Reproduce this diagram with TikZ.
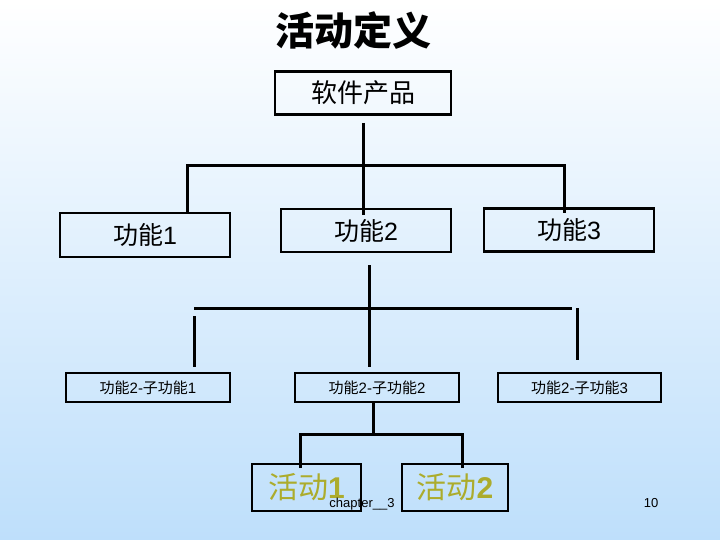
\documentclass[tikz,border=0pt]{standalone}
\usepackage{fontspec}
\setmainfont{Liberation Sans}
\newfontfamily\cjk{Noto Sans CJK SC}
\definecolor{bgblue}{RGB}{190,223,251}
\definecolor{actcol}{RGB}{172,172,44}
\begin{document}
\begin{tikzpicture}[x=1pt,y=-1pt,
  box/.style={draw=black,line width=2.6pt,inner sep=0pt,align=center},
  conn/.style={line width=3pt},
]
\useasboundingbox (0,0) rectangle (720,540);
\shade[top color=white,bottom color=bgblue] (0,0) rectangle (720,540);
% title
\node (title) at (353,31) {\cjk\bfseries\fontsize{39}{41}\selectfont 活动定义};
% level 0
\node[box,minimum width=176pt,minimum height=43pt] (top) at (363,93)
  {\cjk\fontsize{26}{28}\selectfont 软件产品};
% level 1
\node[box,minimum width=170pt,minimum height=44pt] (f1) at (145,235)
  {\fontsize{25}{27}\selectfont{\cjk 功能}1};
\node[box,minimum width=170pt,minimum height=43pt] (f2) at (366,230.5)
  {\fontsize{25}{27}\selectfont{\cjk 功能}2};
\node[box,minimum width=170pt,minimum height=43pt] (f3) at (569,230)
  {\fontsize{25}{27}\selectfont{\cjk 功能}3};
% level 2
\node[box,minimum width=164pt,minimum height=29pt] (s1) at (148,387.5)
  {\fontsize{15}{17}\selectfont{\cjk 功能}2-{\cjk 子功能}1};
\node[box,minimum width=164pt,minimum height=29pt] (s2) at (377,387.5)
  {\fontsize{15}{17}\selectfont{\cjk 功能}2-{\cjk 子功能}2};
\node[box,minimum width=163pt,minimum height=29pt] (s3) at (579.5,387.5)
  {\fontsize{15}{17}\selectfont{\cjk 功能}2-{\cjk 子功能}3};
% level 3
\node[box,minimum width=109pt,minimum height=47pt,text=actcol] (a1) at (306.5,487.5)
  {\fontsize{30}{32}\selectfont{\cjk 活动}\textbf{1}};
\node[box,minimum width=106pt,minimum height=47pt,text=actcol] (a2) at (455,487.5)
  {\fontsize{30}{32}\selectfont{\cjk 活动}\textbf{2}};
% footer
\node (chap) at (362,504) {\fontsize{13}{15}\selectfont chapter\_\_3};
\node (pg) at (651,503) {\fontsize{13}{15}\selectfont 10};
% connector coordinates
\coordinate (t0) at (363,123);
\coordinate (t1) at (363,215);
\coordinate (h1l) at (187,166);
\coordinate (h1r) at (564,166);
\coordinate (h1lb) at (187,213);
\coordinate (h1rb) at (564,213);
\coordinate (m0) at (369,265);
\coordinate (m1) at (369,367);
\coordinate (h2l) at (194,308);
\coordinate (h2r) at (572,308);
\coordinate (v2lt) at (194,316);
\coordinate (v2lb) at (194,367);
\coordinate (v2rt) at (577,308);
\coordinate (v2rb) at (577,360);
\coordinate (b0) at (373,402);
\coordinate (b1) at (373,434);
\coordinate (h3l) at (300,434);
\coordinate (h3r) at (462,434);
\coordinate (h3lb) at (300,468);
\coordinate (h3rb) at (462,468);
% connectors
\draw[conn] (t0) -- (t1);
\draw[conn] (h1lb) -- (h1l) -- (h1r) -- (h1rb);
\draw[conn] (m0) -- (m1);
\draw[conn] (h2l) -- (h2r);
\draw[conn] (v2lt) -- (v2lb);
\draw[conn] (v2rt) -- (v2rb);
\draw[conn] (b0) -- (b1);
\draw[conn] (h3lb) -- (h3l) -- (h3r) -- (h3rb);
\end{tikzpicture}
\end{document}
